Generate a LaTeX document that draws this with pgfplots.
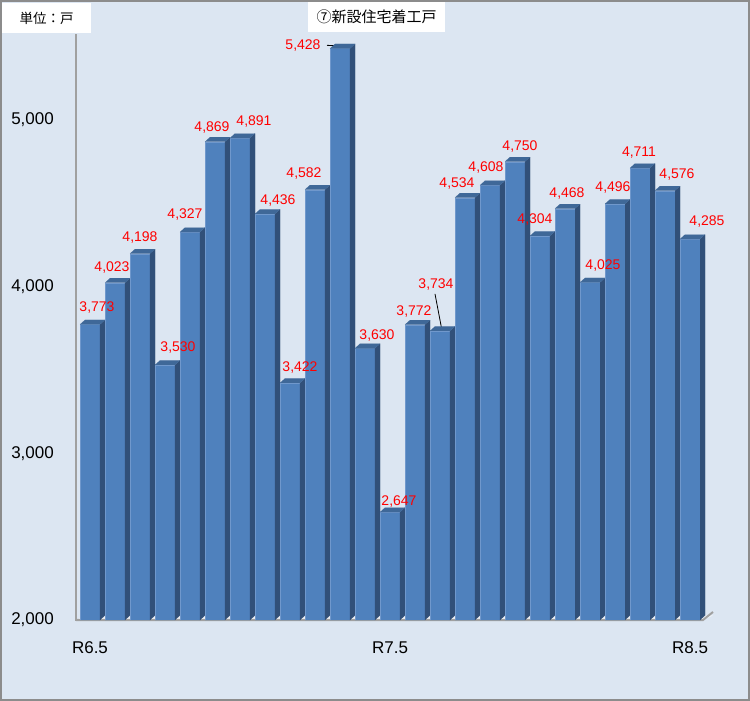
\documentclass[border=0pt]{standalone}
\usepackage{pgfplots}
\usepackage{pgfplotstable}
\pgfplotsset{compat=1.18}
\usepackage{fontspec}
\setmainfont{Liberation Sans}
\newfontfamily\jp{Noto Sans CJK JP}
\definecolor{bg}{HTML}{DCE6F2}
\definecolor{frontc}{HTML}{4F81BD}
\definecolor{topc}{RGB}{63,104,152}
\definecolor{sidec}{RGB}{49,80,121}
\definecolor{edgec}{RGB}{112,152,204}
\definecolor{floorc}{HTML}{F2F4F8}
\definecolor{axisc}{HTML}{A0A0A0}
\definecolor{borderc}{HTML}{8C8C8C}

\pgfplotstableread{
x v
0 3773
1 4023
2 4198
3 3530
4 4327
5 4869
6 4891
7 4436
8 3422
9 4582
10 5428
11 3630
12 2647
13 3772
14 3734
15 4534
16 4608
17 4750
18 4304
19 4468
20 4025
21 4496
22 4711
23 4576
24 4285
}\bars

\pgfplotstableread{
x y lab
0.28 3872 3,773
0.88 4112 4,023
2.0 4292 4,198
3.52 3632 3,530
3.8 4433 4,327
4.88 4952 4,869
6.56 4988 4,891
7.52 4517 4,436
8.4 3512 3,422
8.56 4676 4,582
8.52 5447 5,428
11.48 3704 3,630
12.36 2708 2,647
12.96 3848 3,772
13.84 4013 3,734
14.68 4616 4,534
15.84 4712 4,608
17.2 4838 4,750
17.8 4403 4,304
19.08 4559 4,468
20.52 4124 4,025
20.92 4595 4,496
21.96 4802 4,711
23.48 4673 4,576
24.68 4388 4,285
}\labs

\begin{document}
\begin{tikzpicture}
\useasboundingbox (0,0) rectangle (750bp,701bp);
\fill[bg] (0,0) rectangle (750bp,701bp);
\draw[borderc, line width=2bp] (1bp,1bp) rectangle (749bp,700bp);
\fill[white] (2bp,668bp) rectangle (91bp,698bp);
\node[font=\jp\fontsize{13.5bp}{16bp}\selectfont, inner sep=0pt] at (46.5bp,683bp) {単位：戸};
\fill[white] (308bp,669bp) rectangle (445bp,699bp);
\node[font=\jp\fontsize{15bp}{18bp}\selectfont, inner sep=0pt] at (376.5bp,684bp) {⑦新設住宅着工戸};
\begin{axis}[
  at={(76bp,81bp)}, anchor=south west,
  scale only axis, width=637bp, height=586bp,
  xmin=-0.56, xmax=24.92, ymin=2000, ymax=5515,
  clip=false,
  axis line style={draw=none},
  tick style={draw=none},
  major tick length=0pt,
  ytick={2000,3000,4000,5000},
  yticklabels={{2,000},{3,000},{4,000},{5,000}},
  xtick={0,12,24},
  xticklabels={R6.5,R7.5,R8.5},
  yticklabel style={font=\fontsize{17bp}{20bp}\selectfont, inner sep=0pt, xshift=-22bp},
  xticklabel style={font=\fontsize{17bp}{20bp}\selectfont, inner sep=0pt, yshift=-21.5bp},
]
\fill[floorc] (axis cs:-0.56,2000) -- (axis cs:24.52,2000) -- (axis cs:24.92,2027) -- (axis cs:-0.16,2027) -- cycle;
\addplot[scatter, only marks, mark=*, mark size=0pt, color=topc,
  mark options={line width=0.01pt},
  visualization depends on={\thisrow{v} \as \val},
  scatter/@pre marker code/.code={%
    \pgfmathsetmacro\hh{(\val-2000)/3515*586}%
    \pgfmathsetmacro\hhb{\hh-4.5}%
    \fill[frontc] (-10bp,0bp) rectangle (10bp,-\hh bp);
    \draw[edgec, line width=0.6bp] (-9.7bp,-\hh bp) -- (-9.7bp,-0.3bp) -- (9.7bp,-0.3bp);
    \fill[sidec] (10bp,0bp) -- (15bp,4.5bp) -- (15bp,-\hhb bp) -- (10bp,-\hh bp) -- cycle;
    \fill[topc] (-10bp,0bp) -- (10bp,0bp) -- (15bp,4.5bp) -- (-5bp,4.5bp) -- cycle;
  },
  scatter/@post marker code/.code={}
] table[x=x,y=v]{\bars};
\draw[axisc, line width=2bp] (axis cs:-0.56,2000) -- (axis cs:24.52,2000) -- (axis cs:24.92,2048);
\draw[axisc, line width=2.3bp] (axis cs:-0.56,1995) -- (axis cs:-0.56,5515);
\addplot[draw=none, mark=none, nodes near coords={\pgfplotspointmeta},
  point meta=explicit symbolic,
  every node near coord/.style={anchor=center, inner sep=0pt, text=red, font=\fontsize{14bp}{16bp}\selectfont}
] table[x=x,y=y,meta=lab]{\labs};
\addplot[black, line width=0.8bp] coordinates {(9.48,5447) (10.0,5444)};
\addplot[black, line width=0.8bp] coordinates {(13.8,3956) (14.07,3744)};
\end{axis}
\end{tikzpicture}
\end{document}
